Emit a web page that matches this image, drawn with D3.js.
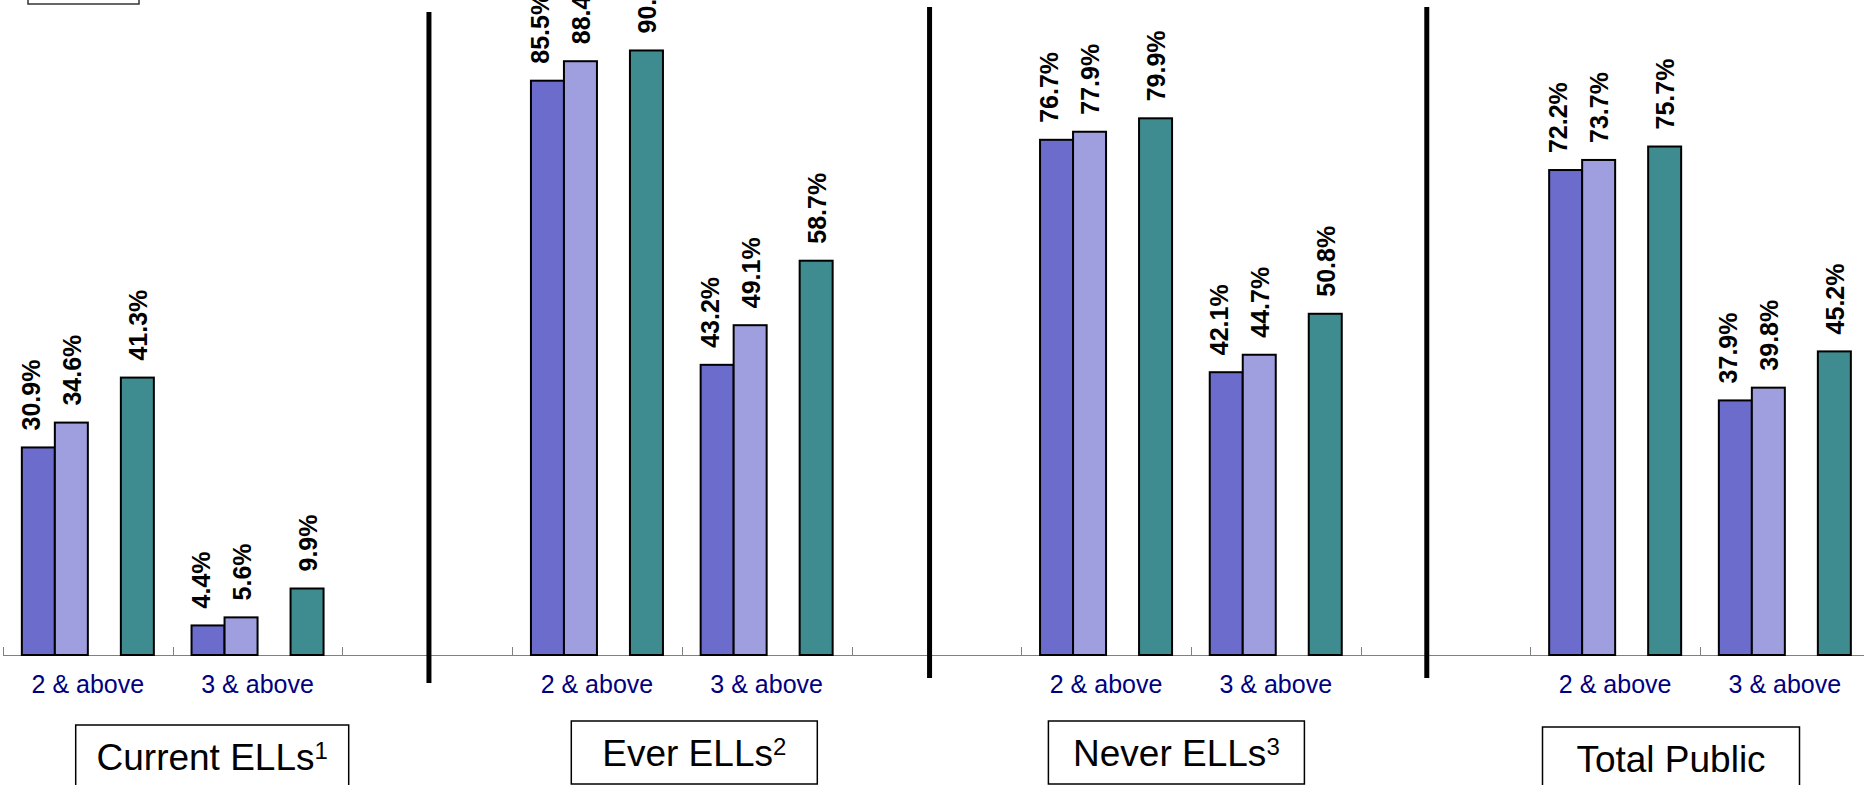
<!DOCTYPE html>
<html>
<head>
<meta charset="utf-8">
<script src="https://cdn.jsdelivr.net/npm/d3@7"></script>
<style>
  html, body { margin: 0; padding: 0; background: #ffffff; }
  svg { display: block; font-family: "Liberation Sans", Arial, sans-serif; }
</style>
</head>
<body>
<svg id="chart" width="1864" height="785"></svg>
<script>
// ---------- DATA ----------
const groups = ["Current ELLs", "Ever ELLs", "Never ELLs", "Total Public"];
const groupSuperscripts = ["1", "2", "3", ""];
const levels = ["2 & above", "3 & above"];
const seriesNames = ["Series A", "Series B", "Series C"];
// values in group order: [Current 2+, Current 3+, Ever 2+, Ever 3+, Never 2+, Never 3+, Total 2+, Total 3+]
const seriesA = [30.9, 4.4, 85.5, 43.2, 76.7, 42.1, 72.2, 37.9];
const seriesB = [34.6, 5.6, 88.4, 49.1, 77.9, 44.7, 73.7, 39.8];
const seriesC = [41.3, 9.9, 90.0, 58.7, 79.9, 50.8, 75.7, 45.2];

// ---------- LAYOUT / STYLE ----------
const W = 1864, H = 785;
const baseY = 655;
const colors = {"Series A": "#6c6ccd", "Series B": "#9f9fdf", "Series C": "#3e8c90"};
const svg = d3.select("#chart");

// category slots: each group has its two levels, then an empty spacer slot
const cats = [];
groups.forEach((g, gi) => {
  levels.forEach((l, li) => cats.push({key: `g${gi}-l${li}`, label: l, group: gi, level: li}));
  if (gi < groups.length - 1) cats.push({key: `sp${gi}`, label: "", group: gi, spacer: true});
});
const step = 169.7;
const x = d3.scaleBand().domain(cats.map(c => c.key)).range([3, 3 + step * cats.length]).padding(0);
// four bar slots per category; the third one is left empty
const slots = ["Series A", "Series B", "_empty", "Series C"];
const xs = d3.scaleBand().domain(slots).range([0, x.bandwidth()]).paddingInner(0).paddingOuter(0.571);
const y = d3.scaleLinear().domain([0, 100]).range([baseY, baseY - 671.7]);

// build records
const seriesVals = {"Series A": seriesA, "Series B": seriesB, "Series C": seriesC};
const records = [];
cats.filter(c => !c.spacer).forEach((c, i) => {
  seriesNames.forEach(s => records.push({cat: c.key, series: s, value: seriesVals[s][i]}));
});

// legend box remnant at the top-left (content is outside of the visible area)
svg.append("rect").attr("x", 28).attr("y", -60).attr("width", 111).attr("height", 64)
  .attr("fill", "none").attr("stroke", "#333").attr("stroke-width", 1.5);

// axis line and tick marks at category boundaries
svg.append("line").attr("x1", x.range()[0]).attr("x2", W + 20)
  .attr("y1", baseY + 0.5).attr("y2", baseY + 0.5)
  .attr("stroke", "#808080").attr("stroke-width", 1);
svg.append("g").selectAll("line").data(cats).join("line")
  .attr("x1", d => Math.round(x(d.key)) + 0.5).attr("x2", d => Math.round(x(d.key)) + 0.5)
  .attr("y1", baseY - 8).attr("y2", baseY)
  .attr("stroke", "#808080").attr("stroke-width", 1);

// category labels
const axis = d3.axisBottom(x).tickSize(0).tickPadding(0).tickFormat(k => cats.find(c => c.key === k).label);
const ax = svg.append("g").attr("transform", `translate(0,${baseY})`).call(axis);
ax.select(".domain").remove();
ax.selectAll("text").attr("y", 38).attr("dy", 0)
  .attr("fill", "#000080").attr("font-size", 25).attr("font-family", "Liberation Sans, Arial, sans-serif");

// bars
svg.append("g").selectAll("rect").data(records).join("rect")
  .attr("x", d => x(d.cat) + xs(d.series))
  .attr("y", d => y(d.value))
  .attr("width", xs.bandwidth())
  .attr("height", d => baseY - y(d.value))
  .attr("fill", d => colors[d.series])
  .attr("stroke", "#000").attr("stroke-width", 2);

// value labels (rotated)
const labelShift = {"Series A": -8, "Series B": 0, "Series C": 0};
svg.append("g").selectAll("text").data(records).join("text")
  .attr("transform", d => {
    const cx = x(d.cat) + xs(d.series) + xs.bandwidth() / 2 + 9.5 + labelShift[d.series];
    const cy = y(d.value) - 17;
    return `translate(${cx},${cy}) rotate(-90)`;
  })
  .attr("text-anchor", "start")
  .attr("font-size", 25).attr("font-weight", "bold").attr("fill", "#000")
  .text(d => d.value.toFixed(1) + "%");

// thick panel dividers inside the spacer slots
const dividerFrac = [0.51, 0.46, 0.39];
const dividerTop = [12, 7, 7];
const dividerBottom = [683, 678, 678];
svg.append("g").selectAll("line").data(cats.filter(c => c.spacer)).join("line")
  .attr("x1", (d, i) => x(d.key) + dividerFrac[i] * x.bandwidth())
  .attr("x2", (d, i) => x(d.key) + dividerFrac[i] * x.bandwidth())
  .attr("y1", (d, i) => dividerTop[i]).attr("y2", (d, i) => dividerBottom[i])
  .attr("stroke", "#000").attr("stroke-width", 5);

// group label boxes
const boxOffset = [39.5, 12.5, -14.5, -29];
const boxWidth = [273, 246, 256, 257];
const boxTop = [725, 721, 721, 727];
groups.forEach((g, gi) => {
  const c0 = x(`g${gi}-l0`), c1 = x(`g${gi}-l1`) + x.bandwidth();
  const cx = (c0 + c1) / 2 + boxOffset[gi];
  const gg = svg.append("g");
  gg.append("rect").attr("x", cx - boxWidth[gi] / 2).attr("y", boxTop[gi])
    .attr("width", boxWidth[gi]).attr("height", 63)
    .attr("fill", "#fff").attr("stroke", "#000").attr("stroke-width", 1.5);
  const t = gg.append("text").attr("x", cx).attr("y", boxTop[gi] + 45)
    .attr("text-anchor", "middle").attr("font-size", 37).attr("fill", "#000");
  t.append("tspan").text(g);
  if (groupSuperscripts[gi]) {
    t.append("tspan").attr("font-size", 24).attr("dy", -11).text(groupSuperscripts[gi]);
  }
});
</script>
</body>
</html>
